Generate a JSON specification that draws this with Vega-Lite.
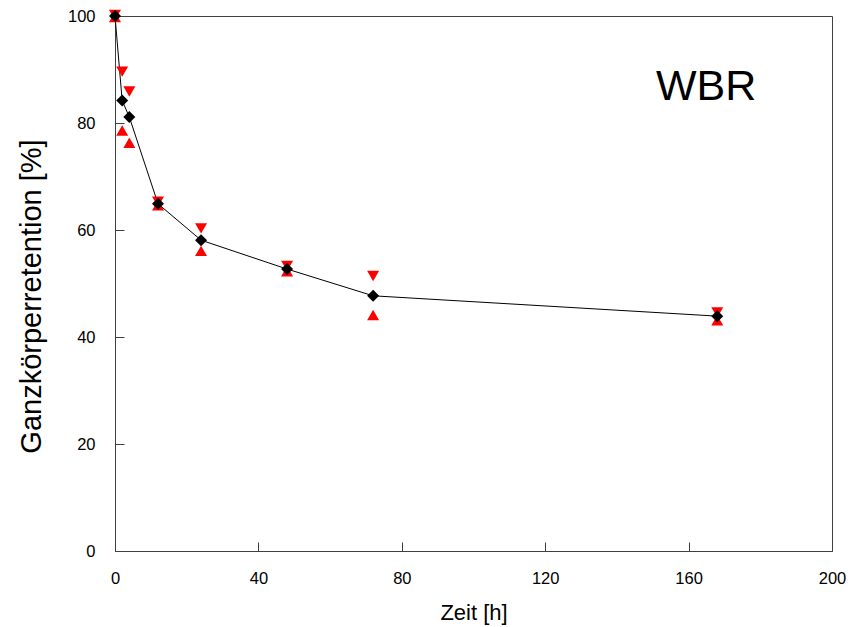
{
  "$schema": "https://vega.github.io/schema/vega-lite/v6.json",
  "width": 717,
  "height": 535,
  "autosize": {"type": "none"},
  "padding": {"left": 115, "top": 16, "right": 16, "bottom": 76},
  "background": "white",
  "config": {
    "font": "Liberation Sans",
    "view": {"stroke": "#404040", "strokeWidth": 1},
    "axis": {
      "grid": false,
      "domainColor": "#404040",
      "tickColor": "#404040",
      "tickSize": -9,
      "labelFlush": false,
      "labelOverlap": false,
      "labelFont": "Liberation Sans",
      "labelFontSize": 16.5,
      "labelColor": "#000000",
      "titleFont": "Liberation Sans",
      "titleFontWeight": "normal",
      "titleColor": "#000000"
    }
  },
  "data": {
    "values": [
      {"t": 0, "mean": 100, "upper": 100.2, "lower": 99.8},
      {"t": 2, "mean": 84.2, "upper": 89.6, "lower": 78.6},
      {"t": 4, "mean": 81.1, "upper": 85.9, "lower": 76.3},
      {"t": 12, "mean": 64.9, "upper": 65.3, "lower": 64.6},
      {"t": 24, "mean": 58.1, "upper": 60.3, "lower": 56.1},
      {"t": 48, "mean": 52.7, "upper": 53.3, "lower": 52.3},
      {"t": 72, "mean": 47.7, "upper": 51.4, "lower": 44.1},
      {"t": 168, "mean": 43.9, "upper": 44.6, "lower": 43.1}
    ]
  },
  "layer": [
    {
      "mark": {"type": "line", "color": "#000000", "strokeWidth": 1},
      "encoding": {
        "x": {"field": "t", "type": "quantitative", "scale": {"domain": [0, 200], "nice": false},
          "axis": {"values": [0, 40, 80, 120, 160, 200], "title": "Zeit [h]", "titleFontSize": 22, "labelPadding": 28, "titlePadding": 16}},
        "y": {"field": "mean", "type": "quantitative", "scale": {"domain": [0, 100], "nice": false},
          "axis": {"values": [0, 20, 40, 60, 80, 100], "title": "Ganzkörperretention [%]", "titleFontSize": 29, "labelPadding": 29, "titlePadding": 21, "titleY": 280}}
      }
    },
    {
      "mark": {"type": "point", "shape": "triangle-down", "filled": true, "color": "#ff0000", "size": 144, "opacity": 1},
      "encoding": {
        "x": {"field": "t", "type": "quantitative"},
        "y": {"field": "upper", "type": "quantitative"}
      }
    },
    {
      "mark": {"type": "point", "shape": "triangle-up", "filled": true, "color": "#ff0000", "size": 144, "opacity": 1},
      "encoding": {
        "x": {"field": "t", "type": "quantitative"},
        "y": {"field": "lower", "type": "quantitative"}
      }
    },
    {
      "mark": {"type": "point", "shape": "diamond", "filled": true, "color": "#000000", "size": 144, "opacity": 1},
      "encoding": {
        "x": {"field": "t", "type": "quantitative"},
        "y": {"field": "mean", "type": "quantitative"}
      }
    },
    {
      "data": {"values": [{"label": "WBR", "t": 164.9, "v": 86.7}]},
      "mark": {"type": "text", "fontSize": 43, "font": "Liberation Sans", "color": "#000000", "align": "center", "baseline": "middle"},
      "encoding": {
        "x": {"field": "t", "type": "quantitative"},
        "y": {"field": "v", "type": "quantitative"},
        "text": {"field": "label"}
      }
    }
  ]
}
